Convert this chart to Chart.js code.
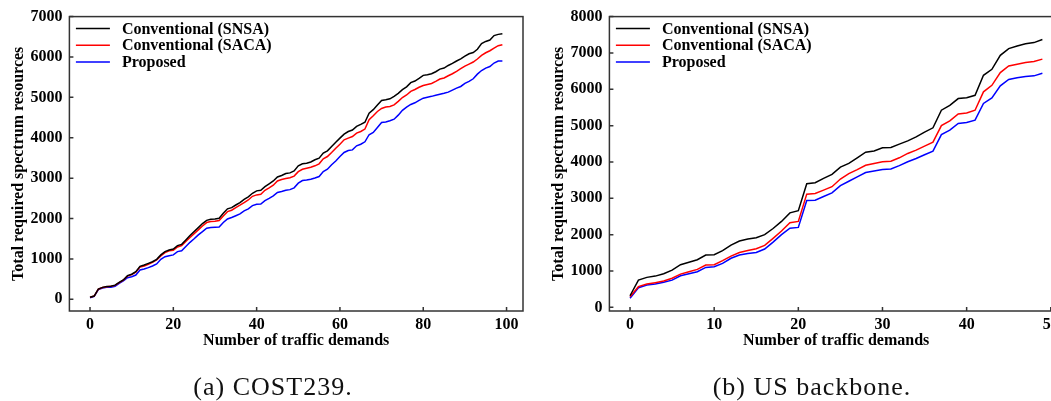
<!DOCTYPE html>
<html>
<head>
<meta charset="utf-8">
<script src="https://cdn.jsdelivr.net/npm/chart.js@4"></script>
<style>
  html, body { margin: 0; padding: 0; background: #fff; overflow: hidden; width: 1051px; height: 401px; }
  canvas { position: absolute; top: 0; }
  #c1 { left: 0; }
  #c2 { left: 540px; }
  .cap { position: absolute; top: 374px; font-family: "Liberation Serif", serif; font-size: 26px; line-height: 26px; letter-spacing: 1px; color: #111; white-space: nowrap; transform: translateX(-50%); }
</style>
</head>
<body>
<canvas id="c1" width="540" height="401"></canvas>
<canvas id="c2" width="540" height="401"></canvas>
<div class="cap" style="left:273px">(a) COST239.</div>
<div class="cap" style="left:812px">(b) US backbone.</div>
<script>
const seriesNames = ["Conventional (SNSA)", "Conventional (SACA)", "Proposed"];
const seriesColors = ["#000000", "#ff0000", "#0000ff"];

// (a) COST239, demands 0..99
const costDemands = Array.from({ length: 100 }, (_, i) => i);
const costSNSA = [50, 80, 255, 295, 315, 325, 350, 420, 480, 585, 620, 685, 815, 850, 890, 930, 990, 1100, 1180, 1220,
  1245, 1330, 1360, 1470, 1580, 1678, 1775, 1875, 1955, 1980, 1990, 2005, 2130, 2240, 2270, 2335, 2395, 2475, 2535, 2625,
  2685, 2700, 2790, 2860, 2930, 3030, 3065, 3115, 3130, 3180, 3305, 3355, 3370, 3400, 3455, 3495, 3620, 3675, 3785, 3890,
  3990, 4090, 4155, 4190, 4280, 4330, 4385, 4610, 4695, 4810, 4925, 4940, 4965, 5025, 5100, 5190, 5260, 5365, 5405, 5470,
  5545, 5560, 5585, 5635, 5700, 5725, 5790, 5840, 5900, 5955, 6020, 6080, 6110, 6190, 6330, 6385, 6420, 6530, 6560, 6575];
const costSACA = [50, 80, 250, 290, 310, 320, 345, 415, 475, 575, 610, 670, 800, 825, 865, 915, 975, 1075, 1155, 1200,
  1215, 1295, 1330, 1430, 1530, 1625, 1720, 1815, 1900, 1925, 1930, 1950, 2065, 2170, 2205, 2270, 2330, 2395, 2460, 2550,
  2585, 2600, 2700, 2760, 2825, 2930, 2965, 2990, 3010, 3050, 3160, 3220, 3245, 3270, 3305, 3355, 3480, 3535, 3635, 3740,
  3840, 3950, 3990, 4030, 4115, 4155, 4215, 4445, 4545, 4650, 4725, 4760, 4775, 4815, 4900, 4995, 5060, 5150, 5195, 5250,
  5295, 5320, 5345, 5395, 5455, 5480, 5535, 5585, 5645, 5710, 5775, 5825, 5875, 5950, 6040, 6105, 6155, 6220, 6280, 6305];
const costProposed = [40, 70, 240, 280, 295, 300, 320, 395, 455, 535, 560, 600, 725, 750, 785, 825, 875, 990, 1055, 1080,
  1100, 1180, 1200, 1305, 1410, 1500, 1595, 1675, 1760, 1775, 1785, 1790, 1900, 1990, 2025, 2070, 2115, 2190, 2240, 2320,
  2355, 2360, 2445, 2500, 2560, 2645, 2670, 2700, 2715, 2760, 2875, 2940, 2955, 2975, 3005, 3040, 3165, 3220, 3330, 3425,
  3535, 3635, 3685, 3700, 3800, 3840, 3900, 4075, 4130, 4255, 4380, 4390, 4420, 4460, 4560, 4680, 4760, 4825, 4865, 4925,
  4980, 5005, 5025, 5050, 5075, 5100, 5130, 5180, 5230, 5270, 5345, 5395, 5460, 5575, 5665, 5725, 5765, 5850, 5900, 5900];
const costXTicks = [0, 20, 40, 60, 80, 100];
const costYTicks = [0, 1000, 2000, 3000, 4000, 5000, 6000, 7000];

// (b) US backbone, demands 0..49
const usDemands = Array.from({ length: 50 }, (_, i) => i);
const usSNSA = [320, 750, 825, 860, 925, 1025, 1175, 1240, 1310, 1440, 1450, 1560, 1715, 1825, 1880, 1915, 2000, 2170, 2365, 2600,
  2660, 3400, 3430, 3550, 3660, 3860, 3960, 4115, 4270, 4305, 4390, 4400, 4490, 4580, 4690, 4820, 4940, 5425, 5560, 5745,
  5770, 5835, 6385, 6550, 6935, 7120, 7190, 7250, 7285, 7370];
const usSACA = [290, 570, 640, 680, 725, 800, 915, 980, 1045, 1165, 1175, 1285, 1410, 1510, 1565, 1615, 1705, 1900, 2100, 2330,
  2365, 3115, 3135, 3225, 3320, 3530, 3680, 3790, 3910, 3960, 4005, 4020, 4115, 4235, 4325, 4435, 4545, 5000, 5130, 5320,
  5350, 5425, 5930, 6110, 6460, 6640, 6690, 6735, 6765, 6830];
const usProposed = [250, 540, 615, 640, 690, 750, 870, 925, 980, 1100, 1120, 1210, 1350, 1440, 1485, 1510, 1605, 1795, 2000, 2180,
  2200, 2940, 2950, 3050, 3150, 3350, 3470, 3590, 3710, 3750, 3790, 3810, 3900, 4005, 4095, 4200, 4300, 4755, 4875, 5060,
  5085, 5150, 5610, 5765, 6095, 6270, 6315, 6350, 6370, 6440];
const usXTicks = [0, 10, 20, 30, 40, 50];
const usYTicks = [0, 1000, 2000, 3000, 4000, 5000, 6000, 7000, 8000];

const axisFont = { family: "'Liberation Serif', serif", size: 16, weight: "bold" };

// box, inward ticks and the in-plot legend
const framePlugin = {
  id: "frame",
  afterDatasetsDraw(chart) {
    const { ctx, chartArea: a, scales } = chart;
    ctx.save();
    ctx.strokeStyle = "#333";
    ctx.lineWidth = 1.5;
    ctx.strokeRect(a.left, a.top, a.right - a.left, a.bottom - a.top);
    ctx.beginPath();
    scales.x.ticks.forEach(t => {
      const px = scales.x.getPixelForValue(t.value);
      ctx.moveTo(px, a.bottom);
      ctx.lineTo(px, a.bottom - 4);
    });
    scales.y.ticks.forEach(t => {
      const py = scales.y.getPixelForValue(t.value);
      ctx.moveTo(a.left, py);
      ctx.lineTo(a.left + 4, py);
    });
    ctx.stroke();

    ctx.font = "bold 16px 'Liberation Serif'";
    ctx.textBaseline = "middle";
    chart.data.datasets.forEach((ds, i) => {
      const y = a.top + 12 + i * 16.7;
      ctx.strokeStyle = ds.borderColor;
      ctx.lineWidth = 1.5;
      ctx.beginPath();
      ctx.moveTo(a.left + 6.5, y);
      ctx.lineTo(a.left + 40.5, y);
      ctx.stroke();
      ctx.fillStyle = "#000";
      ctx.fillText(ds.label, a.left + 52.5, y + 1);
    });
    ctx.restore();
  }
};

function makeChart(id, xs, series, xTicks, yTicks, xMin, xMax, yMin, yMax) {
  new Chart(document.getElementById(id), {
    type: "line",
    data: {
      labels: xs,
      datasets: series.map((vals, i) => ({
        label: seriesNames[i],
        data: vals,
        borderColor: seriesColors[i],
        backgroundColor: seriesColors[i],
        borderWidth: 1.5,
        pointRadius: 0,
        tension: 0
      }))
    },
    options: {
      responsive: false,
      animation: false,
      layout: { padding: { top: 16.5, right: 17, bottom: 45, left: 0 } },
      plugins: { legend: { display: false }, tooltip: { enabled: false } },
      scales: {
        x: {
          type: "linear",
          min: xMin,
          max: xMax,
          afterBuildTicks: s => { s.ticks = xTicks.map(v => ({ value: v })); },
          afterFit: s => { s.height = 45; },
          grid: { display: false, drawTicks: false },
          border: { display: false },
          ticks: { font: axisFont, color: "#000", padding: 4, maxRotation: 0, autoSkip: false, callback: v => String(v) },
          title: { display: true, text: "Number of traffic demands", font: axisFont, color: "#000", padding: { top: 0, bottom: 5.4 } }
        },
        y: {
          min: yMin,
          max: yMax,
          afterBuildTicks: s => { s.ticks = yTicks.map(v => ({ value: v })); },
          afterFit: s => { s.width = 69.4; },
          grid: { display: false, drawTicks: false },
          border: { display: false },
          ticks: { font: axisFont, color: "#000", padding: 7, callback: v => String(v) },
          title: { display: true, text: "Total required spectrum resources", font: axisFont, color: "#000", padding: { top: 9.4, bottom: 0 } }
        }
      }
    },
    plugins: [framePlugin]
  });
}

makeChart("c1", costDemands, [costSNSA, costSACA, costProposed], costXTicks, costYTicks, -4.95, 103.95, -290, 7000);
makeChart("c2", usDemands, [usSNSA, usSACA, usProposed], usXTicks, usYTicks, -2.45, 51.45, -100, 8000);
</script>
</body>
</html>
